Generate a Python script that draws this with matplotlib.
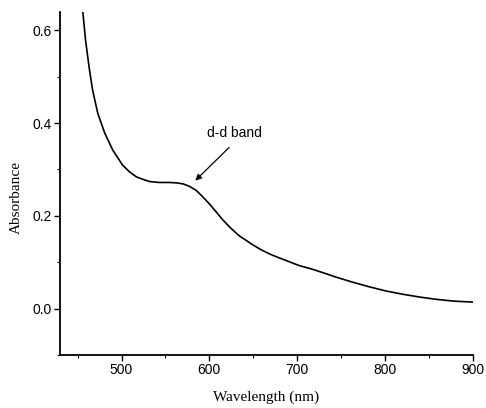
import matplotlib.pyplot as plt
import numpy as np

# absorbance spectrum, read point by point
wavelength = [452, 456, 459, 463, 467, 473, 481, 490, 501, 509, 517, 524, 532,
              543, 555, 563, 570, 577, 585, 592, 600, 608, 615, 622, 627, 634,
              642, 649, 657, 664, 672, 680, 687, 695, 702, 717, 730, 744, 763,
              782, 801, 820, 839, 858, 879, 900]
absorbance = [0.72, 0.639, 0.580, 0.522, 0.472, 0.421, 0.378, 0.342, 0.310,
              0.295, 0.284, 0.279, 0.274, 0.272, 0.272, 0.271, 0.269, 0.264,
              0.255, 0.242, 0.226, 0.208, 0.192, 0.178, 0.169, 0.157, 0.147,
              0.138, 0.129, 0.122, 0.115, 0.109, 0.104, 0.098, 0.093, 0.085,
              0.077, 0.068, 0.057, 0.047, 0.038, 0.031, 0.025, 0.020, 0.016,
              0.014]

x_ticks = [500, 600, 700, 800, 900]
y_ticks = [0.0, 0.2, 0.4, 0.6]

band_label = "d-d band"
band_tip = (584, 0.276)
band_text = (597, 0.379)

fig = plt.figure(figsize=(4.86, 4.08), dpi=100)
ax = fig.add_axes([0.1235, 0.130, 0.8495, 0.841])

ax.plot(wavelength, absorbance, color="black", linewidth=1.2)

ax.set_xlim(430, 900)
ax.set_ylim(-0.1, 0.64)
ax.set_xticks(x_ticks)
ax.set_xticks(np.arange(450, 900, 100), minor=True)
ax.set_yticks(y_ticks)
ax.set_yticks([-0.1, 0.1, 0.3, 0.5], minor=True)
ax.set_yticklabels([f"{v:.1f}" for v in y_ticks])

for side in ("top", "right"):
    ax.spines[side].set_visible(False)
for side in ("left", "bottom"):
    ax.spines[side].set_linewidth(1.3)

ax.tick_params(which="major", direction="out", length=4, width=1.0,
               labelsize=10, pad=2)
ax.tick_params(which="minor", direction="out", length=2.5, width=0.8)
for lbl in ax.get_xticklabels() + ax.get_yticklabels():
    lbl.set_family("Liberation Sans")

ax.set_xlabel("Wavelength (nm)", family="Liberation Serif", fontsize=11)
ax.set_ylabel("Absorbance", family="Liberation Serif", fontsize=11)
ax.xaxis.set_label_coords(0.5, -0.105)
ax.yaxis.set_label_coords(-0.09, 0.46)

ax.annotate(band_label, xy=band_tip, xytext=band_text,
            family="Liberation Sans", fontsize=10, va="center", ha="left",
            arrowprops=dict(arrowstyle="-|>", color="black", lw=0.9,
                            mutation_scale=9, shrinkA=5, shrinkB=0,
                            relpos=(0.55, 0.0)))

fig.savefig("out.png", dpi=100)
